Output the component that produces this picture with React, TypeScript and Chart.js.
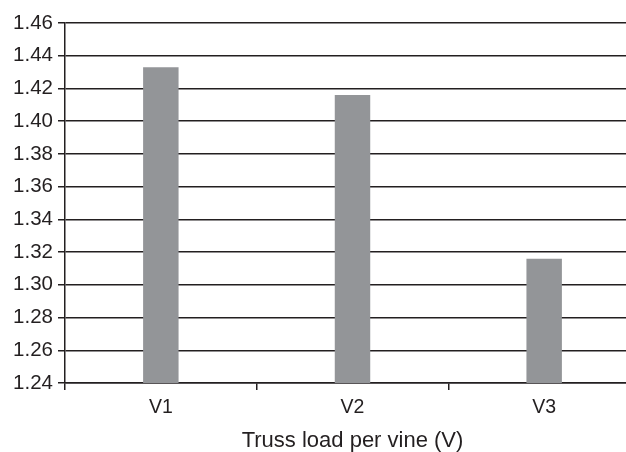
import React, { useEffect, useRef } from "react";
import { Chart, registerables } from "chart.js";

Chart.register(...registerables);

const categories = ["V1", "V2", "V3"];
const values = [1.433, 1.416, 1.316];
const yMin = 1.24;
const yMax = 1.46;
const yStep = 0.02;
const xTitle = "Truss load per vine (V)";

export default function App() {
  const ref = useRef<HTMLCanvasElement | null>(null);
  useEffect(() => {
    if (!ref.current) return;
    const font = "'Liberation Sans', Arial, sans-serif";
    const chart = new Chart(ref.current, {
      type: "bar",
      data: {
        labels: categories,
        datasets: [
          {
            data: values,
            backgroundColor: "#939598",
            borderWidth: 0,
            categoryPercentage: 1,
            barPercentage: 0.185,
          },
        ],
      },
      options: {
        animation: false,
        responsive: false,
        maintainAspectRatio: false,
        layout: { padding: { top: 23, left: 0, right: 0, bottom: 0 } },
        plugins: { legend: { display: false }, tooltip: { enabled: false } },
        scales: {
          x: {
            afterFit: (s: any) => {
              s.height = 69;
            },
            grid: {
              drawOnChartArea: false,
              drawTicks: true,
              tickLength: 7,
              color: "#231f20",
              lineWidth: 1.5,
              offset: true,
            },
            border: { display: true, color: "#231f20", width: 1.5 },
            ticks: {
              color: "#231f20",
              font: { family: font, size: 19.5 },
              padding: 6,
            },
            title: {
              display: true,
              text: xTitle,
              color: "#231f20",
              font: { family: font, size: 22, lineHeight: 1 },
              padding: { top: 0, bottom: 0 },
            },
          },
          y: {
            min: yMin,
            max: yMax,
            afterFit: (s: any) => {
              s.width = 65;
            },
            grid: {
              drawOnChartArea: true,
              drawTicks: true,
              tickLength: 7,
              color: "#231f20",
              lineWidth: 1.5,
            },
            border: { display: true, color: "#231f20", width: 1.5 },
            ticks: {
              stepSize: yStep,
              color: "#231f20",
              font: { family: font, size: 20.5 },
              padding: 5,
              callback: (v: any) => Number(v).toFixed(2),
            },
          },
        },
      },
    });
    return () => chart.destroy();
  }, []);
  return (
    <div
      style={{
        position: "fixed",
        left: 0,
        top: 0,
        width: 626,
        height: 452,
        overflow: "hidden",
        background: "#fff",
      }}
    >
      <canvas ref={ref} width={640} height={452} style={{ width: 640, height: 452 }} />
    </div>
  );
}
